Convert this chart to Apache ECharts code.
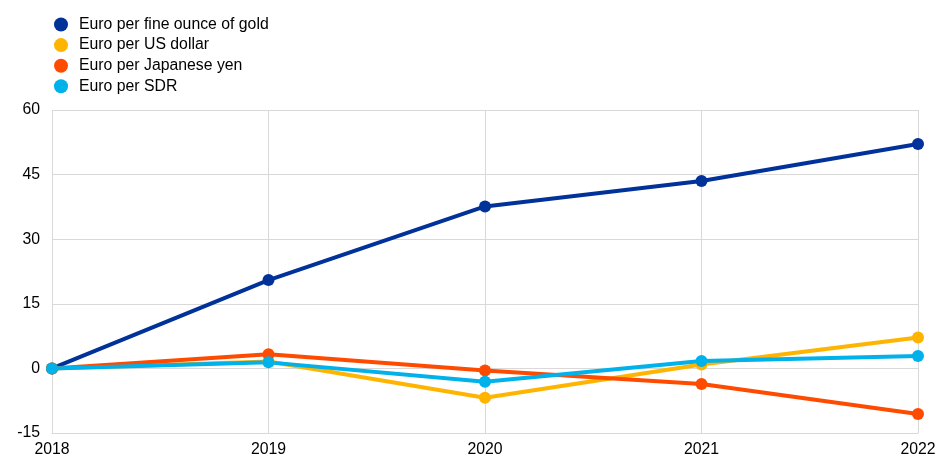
<!DOCTYPE html>
<html>
<head>
<meta charset="utf-8">
<script src="https://cdn.jsdelivr.net/npm/echarts@6/dist/echarts.min.js"></script>
<style>
  html, body { margin: 0; padding: 0; background: #fff; }
  #chart { width: 936px; height: 458px; }
</style>
</head>
<body>
<div id="chart"></div>
<script>
const years = ['2018', '2019', '2020', '2021', '2022'];
const gold = [0, 20.5, 37.6, 43.5, 52.1];
const usDollar = [0, 1.6, -6.8, 0.9, 7.2];
const japaneseYen = [0, 3.3, -0.5, -3.6, -10.6];
const sdr = [0, 1.4, -3.1, 1.7, 2.9];

const seriesNames = ['Euro per fine ounce of gold', 'Euro per US dollar', 'Euro per Japanese yen', 'Euro per SDR'];
const colors = ['#003299', '#ffb400', '#ff4b00', '#00b1ea'];

const chart = echarts.init(document.getElementById('chart'));

function line(name, data, color) {
    return {
        name: name,
        type: 'line',
        data: data,
        symbol: 'circle',
        symbolSize: 12,
        lineStyle: { width: 4, color: color },
        itemStyle: { color: color }
    };
}

chart.setOption({
    animation: false,
    textStyle: { fontFamily: 'Liberation Sans, Arial, sans-serif' },
    legend: {
        orient: 'vertical',
        left: 49,
        top: 11.5,
        itemWidth: 26,
        itemHeight: 14,
        itemGap: 4.6,
        icon: 'circle',
        textStyle: { fontSize: 15.8, color: '#000' },
        data: seriesNames
    },
    grid: { left: 52, right: 18, top: 110, bottom: 25, outerBoundsMode: 'none' },
    xAxis: {
        type: 'category',
        data: years,
        boundaryGap: false,
        axisLine: { show: true, onZero: false, lineStyle: { color: '#d9d9d9' } },
        axisTick: { show: false },
        axisLabel: { color: '#000', fontSize: 15.8, margin: 9 },
        splitLine: { show: true, lineStyle: { color: '#d9d9d9' } }
    },
    yAxis: {
        type: 'value',
        min: -15,
        max: 60,
        interval: 15,
        axisLine: { show: false },
        axisTick: { show: false },
        axisLabel: { color: '#000', fontSize: 15.8, margin: 12 },
        splitLine: { lineStyle: { color: '#d9d9d9' } }
    },
    series: [
        line(seriesNames[0], gold, colors[0]),
        line(seriesNames[1], usDollar, colors[1]),
        line(seriesNames[2], japaneseYen, colors[2]),
        line(seriesNames[3], sdr, colors[3])
    ]
});
</script>
</body>
</html>
